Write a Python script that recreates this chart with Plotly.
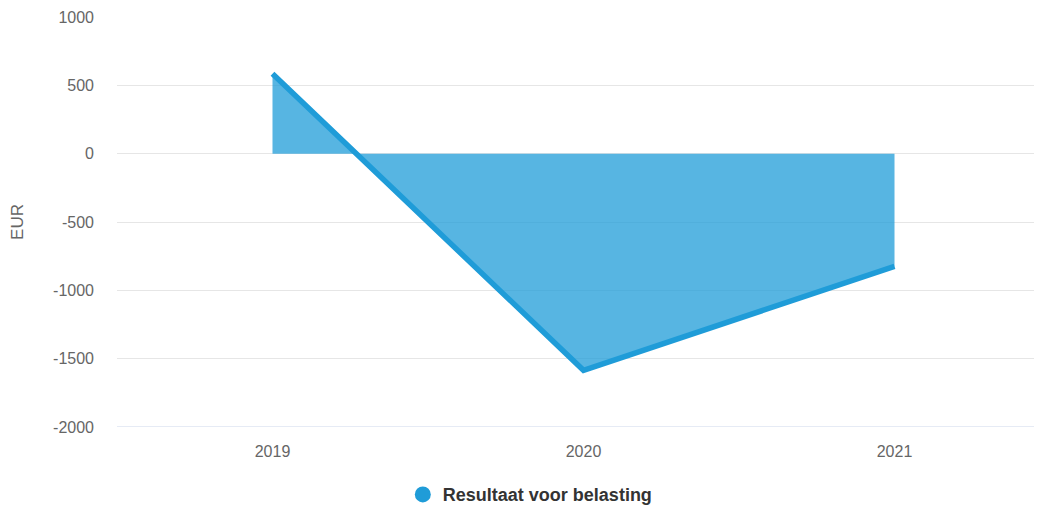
import plotly.graph_objects as go

years = ["2019", "2020", "2021"]
values = [585, -1585, -825]
series_name = "Resultaat voor belasting"
y_ticks = [-2000, -1500, -1000, -500, 0, 500, 1000]
y_tick_text = ["-2000", "-1500", "-1000", "-500", "0", "500", "1000"]

line_color = "#1f9cd8"
fill_color = "rgba(31,156,216,0.75)"
font_family = "Liberation Sans, Arial, sans-serif"

fig = go.Figure()
fig.add_trace(go.Scatter(
    x=years, y=values, mode="lines", fill="tozeroy",
    line=dict(color=line_color, width=5.5), fillcolor=fill_color,
    showlegend=False, hoverinfo="x+y",
))
fig.add_trace(go.Scatter(
    x=[None], y=[None], mode="markers", name=series_name,
    marker=dict(color=line_color, size=18, symbol="circle"),
    showlegend=True,
))

fig.update_layout(
    width=1042, height=513,
    margin=dict(l=109, r=0, t=9, b=94, autoexpand=False),
    paper_bgcolor="white", plot_bgcolor="white",
    font=dict(family=font_family, color="#666666", size=16),
    xaxis=dict(
        type="category", range=[-0.5, 2.5],
        showgrid=False, showline=False, zeroline=False,
        ticks="", ticklabelstandoff=13,
        tickfont=dict(size=16, color="#666666"),
    ),
    yaxis=dict(
        range=[-2000, 1000], tickvals=y_ticks, ticktext=y_tick_text,
        showgrid=True, gridcolor="#e6e6e6", gridwidth=1,
        zeroline=False, showline=False, ticks="",
        ticklabelstandoff=22,
        tickfont=dict(size=16, color="#666666"),
        title=dict(text="EUR", font=dict(size=17, color="#666666"), standoff=30),
    ),
    legend=dict(
        orientation="h", x=0.443, xanchor="center", y=-0.12, yanchor="top",
        font=dict(size=18, color="#333333", family="Liberation Sans, Arial, sans-serif", weight="bold"),
        itemsizing="trace",
    ),
    shapes=[dict(type="line", xref="paper", yref="y", x0=0, x1=1, y0=-2000, y1=-2000,
                 line=dict(color="#ccd6eb", width=1), layer="above")],
)

fig.write_html("out.html")
